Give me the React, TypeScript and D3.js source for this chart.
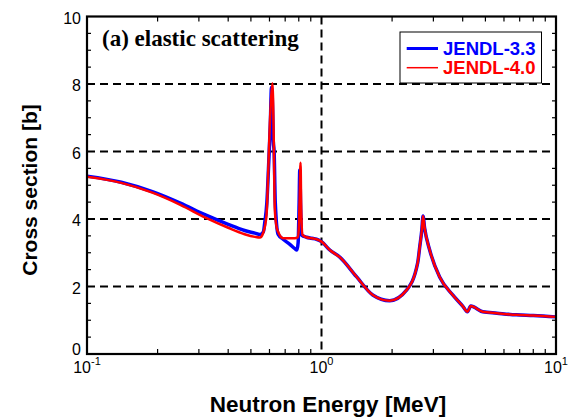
import React from "react";
import * as d3 from "d3";

const energyRed = [0.1, 0.14, 0.19, 0.25, 0.32, 0.4, 0.47, 0.52, 0.546, 0.565, 0.583, 0.592, 0.602, 0.61, 0.618, 0.626, 0.632, 0.642, 0.653, 0.686, 0.733, 0.77, 0.792, 0.8, 0.807, 0.814, 0.82, 0.83, 0.863, 0.907, 0.952, 1.0, 1.085, 1.197, 1.41, 1.654, 1.954, 2.309, 2.571, 2.623, 2.68, 2.71, 2.75, 2.893, 3.19, 3.626, 4.0, 4.19, 4.33, 4.87, 5.6, 6.77, 8.0, 10];
const sigmaRed = [5.25, 5.07, 4.78, 4.42, 4.04, 3.74, 3.55, 3.47, 3.45, 3.6, 4.12, 5.3, 6.8, 7.6, 8.02, 6.29, 4.32, 3.8, 3.62, 3.43, 3.43, 3.43, 3.46, 3.7, 4.6, 5.67, 4.2, 3.53, 3.46, 3.43, 3.4, 3.33, 3.08, 2.87, 2.29, 1.75, 1.58, 1.9, 2.7, 3.17, 3.7, 4.09, 3.75, 3.08, 2.28, 1.75, 1.42, 1.25, 1.42, 1.25, 1.21, 1.16, 1.14, 1.1];

const energyBlue = [0.1, 0.14, 0.19, 0.25, 0.32, 0.4, 0.47, 0.52, 0.546, 0.565, 0.573, 0.585, 0.595, 0.605, 0.612, 0.618, 0.623, 0.628, 0.635, 0.653, 0.686, 0.733, 0.77, 0.785, 0.795, 0.803, 0.808, 0.815, 0.822, 0.863, 0.907, 0.952, 1.0, 1.085, 1.197, 1.41, 1.654, 1.954, 2.309, 2.571, 2.623, 2.68, 2.71, 2.75, 2.893, 3.19, 3.626, 4.0, 4.19, 4.33, 4.87, 5.6, 6.77, 8.0, 10];
const sigmaBlue = [5.27, 5.09, 4.81, 4.47, 4.12, 3.84, 3.66, 3.58, 3.54, 3.62, 3.9, 4.5, 5.6, 6.8, 7.9, 7.4, 6.3, 6.0, 4.5, 3.55, 3.4, 3.25, 3.12, 3.08, 3.3, 4.5, 5.45, 4.3, 3.53, 3.46, 3.43, 3.4, 3.33, 3.08, 2.87, 2.29, 1.75, 1.58, 1.9, 2.7, 3.17, 3.7, 4.09, 3.75, 3.08, 2.28, 1.75, 1.42, 1.25, 1.42, 1.25, 1.21, 1.16, 1.14, 1.1];

const xMajorTicks = [0.1, 1, 10];
const xTickExponents = ["-1", "0", "1"];
const yMajorTicks = [0, 2, 4, 6, 8, 10];
const seriesNames = ["JENDL-3.3", "JENDL-4.0"];
const seriesColors = ["#0000ff", "#ff0000"];

const L = 87, R = 556, T = 16.5, B = 354;

export default function App() {
  const x = d3.scaleLog().domain([0.1, 10]).range([L, R]);
  const y = d3.scaleLinear().domain([0, 10]).range([B, T]);
  const line = d3.line<[number, number]>().x((d) => x(d[0])).y((d) => y(d[1])).curve(d3.curveMonotoneX);
  const blue = line(energyBlue.map((e, i) => [e, sigmaBlue[i]]) as [number, number][]) || "";
  const red = line(energyRed.map((e, i) => [e, sigmaRed[i]]) as [number, number][]) || "";

  const xMinor: number[] = [];
  [0.1, 1].forEach((d) => { for (let k = 2; k <= 9; k++) xMinor.push(d * k); });
  const yMinor = d3.range(0.5, 10, 0.5).filter((v) => v % 2 !== 0);
  const yGrid = [2, 4, 6, 8];

  const sans = "'Liberation Sans', Arial, sans-serif";
  return (
    <svg width={570} height={418} style={{ display: "block", position: "absolute", left: 0, top: 0 }}>
      <rect x={0} y={0} width={570} height={418} fill="#fff" />
      {yGrid.map((v) => (
        <line key={"gy" + v} x1={L} x2={R} y1={y(v)} y2={y(v)} stroke="#000" strokeWidth={2} strokeDasharray="8,5" />
      ))}
      <line x1={x(1)} x2={x(1)} y1={T} y2={B} stroke="#000" strokeWidth={2} strokeDasharray="8,5" />
      {xMinor.map((v) => (
        <g key={"xm" + v}>
          <line x1={x(v)} x2={x(v)} y1={B} y2={B - 5} stroke="#000" strokeWidth={1.2} />
          <line x1={x(v)} x2={x(v)} y1={T} y2={T + 5} stroke="#000" strokeWidth={1.2} />
        </g>
      ))}
      {yMinor.map((v) => (
        <g key={"ym" + v}>
          <line x1={L} x2={L + 4} y1={y(v)} y2={y(v)} stroke="#000" strokeWidth={1.2} />
          <line x1={R} x2={R - 4} y1={y(v)} y2={y(v)} stroke="#000" strokeWidth={1.2} />
        </g>
      ))}
      <path d={blue} fill="none" stroke={seriesColors[0]} strokeWidth={3.5} strokeLinejoin="round" />
      <path d={red} fill="none" stroke={seriesColors[1]} strokeWidth={2.5} strokeLinejoin="round" />
      <rect x={L} y={T} width={R - L} height={B - T} fill="none" stroke="#000" strokeWidth={2.2} />
      {yMajorTicks.map((v) => (
        <text key={"yl" + v} x={81} y={v === 0 ? y(v) + 1 : y(v) + 7} textAnchor="end" fontFamily={sans} fontSize={16}>
          {v}
        </text>
      ))}
      {xMajorTicks.map((v, i) => (
        <text key={"xl" + v} x={x(v)} y={373} textAnchor="middle" fontFamily={sans} fontSize={16}>
          10
          <tspan fontSize={11} dy={-8}>{xTickExponents[i]}</tspan>
        </text>
      ))}
      <text x={328} y={412} textAnchor="middle" fontFamily={sans} fontWeight="bold" fontSize={22.5}>
        Neutron Energy [MeV]
      </text>
      <text transform="translate(37,190) rotate(-90)" textAnchor="middle" fontFamily={sans} fontWeight="bold" fontSize={21}>
        Cross section [b]
      </text>
      <text x={102} y={46} fontFamily="'Liberation Serif', 'Times New Roman', serif" fontWeight="bold" fontSize={23}>
        (a) elastic scattering
      </text>
      <rect x={400} y={32} width={141.5} height={51} fill="#fff" stroke="#000" strokeWidth={1} />
      <line x1={406.7} x2={438} y1={48.5} y2={48.5} stroke={seriesColors[0]} strokeWidth={3} />
      <line x1={406.7} x2={438} y1={67.7} y2={67.7} stroke={seriesColors[1]} strokeWidth={1.5} />
      <text x={443} y={55} fontFamily={sans} fontWeight="bold" fontSize={18.5} fill={seriesColors[0]}>{seriesNames[0]}</text>
      <text x={443} y={74.3} fontFamily={sans} fontWeight="bold" fontSize={18.5} fill={seriesColors[1]}>{seriesNames[1]}</text>
    </svg>
  );
}
